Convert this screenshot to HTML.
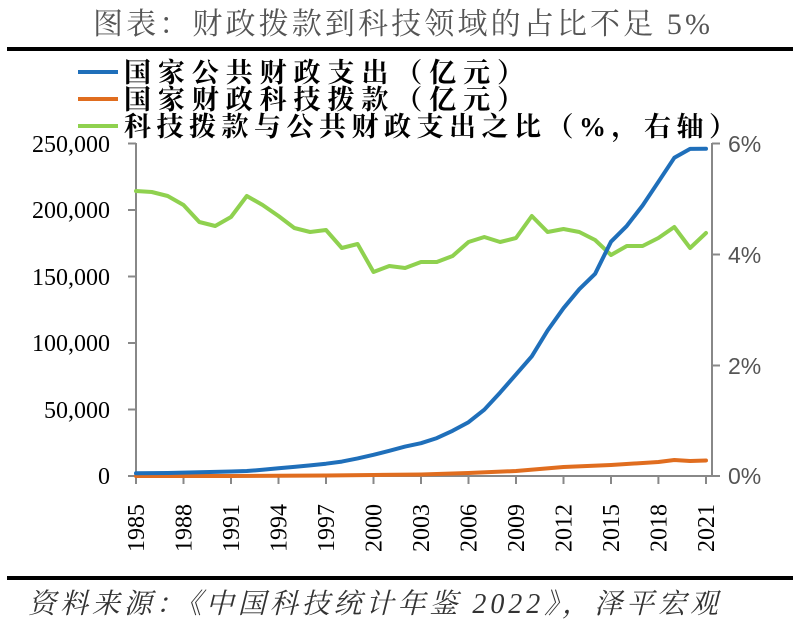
<!DOCTYPE html>
<html><head><meta charset="utf-8"><style>
html,body{margin:0;padding:0;background:#fff;}
body{width:800px;height:634px;overflow:hidden;}
</style></head><body>
<svg width="800" height="634" xmlns="http://www.w3.org/2000/svg">
<text x="93" y="34" textLength="617" lengthAdjust="spacing" font-family="Liberation Serif,'Noto Serif CJK SC',serif" font-size="30" fill="#555">图表：财政拨款到科技领域的占比不足 5%</text>
<rect x="7" y="47" width="786" height="4" fill="#000"/>
<g font-family="Liberation Serif,'Noto Serif CJK SC',serif" font-size="27" font-weight="bold" fill="#000">
<line x1="78" y1="72" x2="118" y2="72" stroke="#1f6fba" stroke-width="4"/>
<text x="124" y="82" textLength="400" lengthAdjust="spacing">国家公共财政支出（亿元）</text>
<line x1="78" y1="99" x2="118" y2="99" stroke="#e06d1f" stroke-width="4"/>
<text x="124" y="109" textLength="400" lengthAdjust="spacing">国家财政科技拨款（亿元）</text>
<line x1="78" y1="126" x2="118" y2="126" stroke="#8fd14f" stroke-width="4"/>
<text x="124" y="136" textLength="612" lengthAdjust="spacing">科技拨款与公共财政支出之比（%，右轴）</text>
</g>
<g stroke="#888" stroke-width="2" fill="none">
<line x1="136" y1="143" x2="136" y2="477"/>
<line x1="712" y1="143" x2="712" y2="477"/>
<line x1="136" y1="476" x2="712" y2="476"/>
<path d="M128 143.5H136M128 210H136M128 276.5H136M128 343H136M128 409.5H136M128 476H136"/>
<path d="M712 143.5H720M712 254.5H720M712 365.5H720M712 476H720"/>
<path d="M136 476v8M183.5 476v8M231 476v8M278.5 476v8M326 476v8M373.5 476v8M421 476v8M468.5 476v8M516 476v8M563.5 476v8M611 476v8M658.4 476v8M706 476v8"/>
</g>
<g font-family="Liberation Serif,serif" font-size="24" fill="#000" text-anchor="end">
<text x="110" y="152">250,000</text><text x="110" y="218">200,000</text><text x="110" y="285">150,000</text>
<text x="110" y="351">100,000</text><text x="110" y="418">50,000</text><text x="110" y="484">0</text>
</g>
<g font-family="Liberation Sans,sans-serif" font-size="23" fill="#555">
<text x="728" y="152">6%</text><text x="728" y="263">4%</text><text x="728" y="374">2%</text><text x="728" y="484">0%</text>
</g>
<g font-family="Liberation Serif,serif" font-size="24" fill="#000">
<text transform="translate(144,552) rotate(-90)">1985</text>
<text transform="translate(191.5,552) rotate(-90)">1988</text>
<text transform="translate(239,552) rotate(-90)">1991</text>
<text transform="translate(286.5,552) rotate(-90)">1994</text>
<text transform="translate(334,552) rotate(-90)">1997</text>
<text transform="translate(381.5,552) rotate(-90)">2000</text>
<text transform="translate(429,552) rotate(-90)">2003</text>
<text transform="translate(476.5,552) rotate(-90)">2006</text>
<text transform="translate(524,552) rotate(-90)">2009</text>
<text transform="translate(571.5,552) rotate(-90)">2012</text>
<text transform="translate(619,552) rotate(-90)">2015</text>
<text transform="translate(666.4,552) rotate(-90)">2018</text>
<text transform="translate(714,552) rotate(-90)">2021</text>
</g>
<g fill="none" stroke-width="4" stroke-linejoin="round" stroke-linecap="round">
<polyline stroke="#8fd14f" points="136,191 151.8,192 167.7,196 183.5,205 199.3,222 215.2,226 231,217 246.8,196 262.6,205 278.5,216 294.3,228 310.1,232 326,230 341.8,248 357.6,244 373.5,272 389.3,266 405.1,268 421,262 436.8,262 452.6,256 468.5,242 484.3,237 500.1,242 516,238 531.8,216 547.6,232 563.5,229 579.3,232 595.1,240 611,255 626.8,246 642.6,246 658.4,238 674.3,227 690.1,248 706,233"/>
<polyline stroke="#e06d1f" points="136,476 231,476 326,475.5 373.5,475 421,474.5 468.5,473 516,471 563.5,467 611,465 658.4,462 674.3,460 690.1,461 706,460.5"/>
<polyline stroke="#1f6fba" points="136,473.3 167.7,473 199.3,472.2 231,471.5 246.8,471 262.6,469.8 278.5,468.3 294.3,466.9 310.1,465.4 326,463.7 341.8,461.6 357.6,458.4 373.5,454.8 389.3,450.8 405.1,446.6 421,443.2 436.8,438.1 452.6,430.8 468.5,422.2 484.3,409.7 500.1,392.6 516,374.4 531.8,356.3 547.6,330.5 563.5,308.2 579.3,289.2 595.1,273.8 611,241.7 626.8,225.9 642.6,205.5 658.4,181.8 674.3,157.8 690.1,148.9 706,148.8"/>
</g>
<rect x="7" y="576" width="786" height="4" fill="#000"/>
<text x="28" y="613" textLength="690" lengthAdjust="spacing" font-family="Liberation Serif,'Noto Serif CJK SC',serif" font-size="28" font-style="italic" fill="#333">资料来源：《中国科技统计年鉴 2022》，泽平宏观</text>
</svg>
</body></html>
